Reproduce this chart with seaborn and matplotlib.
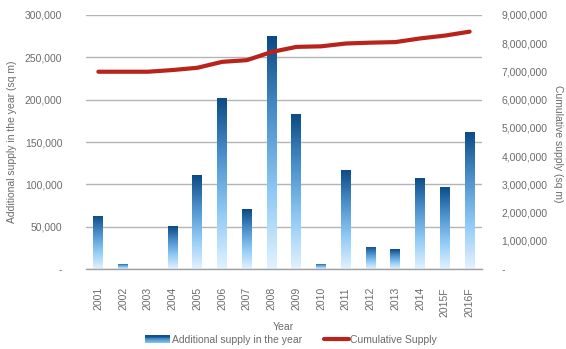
import numpy as np
import pandas as pd
import matplotlib
matplotlib.use("Agg")
import matplotlib.pyplot as plt
import seaborn as sns
from matplotlib.colors import LinearSegmentedColormap
from matplotlib.legend_handler import HandlerBase
from matplotlib.patches import Rectangle
from matplotlib.lines import Line2D
from matplotlib.ticker import FuncFormatter, FixedLocator

years = ["2001", "2002", "2003", "2004", "2005", "2006", "2007", "2008",
         "2009", "2010", "2011", "2012", "2013", "2014", "2015F", "2016F"]
additional = [63000, 6300, 0, 50500, 111000, 202000, 70500, 275000,
              183500, 6300, 117500, 26500, 23500, 108000, 97000, 162000]
cumulative = [6990000, 6990000, 6990000, 7050000, 7130000, 7340000, 7400000, 7690000,
              7870000, 7890000, 7990000, 8020000, 8040000, 8170000, 8270000, 8410000]

df = pd.DataFrame({"Year": years, "Additional": additional, "Cumulative": cumulative})

sns.set_theme(style="white")
plt.rcParams["font.family"] = ["Liberation Sans", "DejaVu Sans"]

W, H = 566, 349
fig = plt.figure(figsize=(W / 100, H / 100), dpi=100)
fig.patch.set_facecolor("white")
L, R, T, B = 86, 482, 15, 269
ax = fig.add_axes([L / W, 1 - B / H, (R - L) / W, (B - T) / H])

grad = LinearSegmentedColormap.from_list(
    "g", ["#e2f2ff", "#8ec9f5", "#4a8fcb", "#0b4a84"])

sns.barplot(data=df, x="Year", y="Additional", ax=ax, width=0.4,
            color="#4a8fcb", linewidth=0, zorder=3)
ax.set_ylim(0, 300000)
ax.set_xlim(-0.5, len(years) - 0.5)

# gradient fill inside each bar
gimg = np.linspace(0, 1, 256).reshape(-1, 1)
for p in list(ax.patches):
    x0, y0 = p.get_x(), p.get_y()
    w, h = p.get_width(), p.get_height()
    if h <= 0:
        continue
    im = ax.imshow(gimg, cmap=grad, aspect="auto", origin="lower",
                   extent=[x0, x0 + w, y0, y0 + h], zorder=4, interpolation="bicubic")
    im.set_clip_path(p)
ax.set_xlim(-0.5, len(years) - 0.5)
ax.set_ylim(0, 300000)

tick_color = "#6b6b6b"
ax.yaxis.set_major_locator(FixedLocator(np.arange(0, 300001, 50000)))
ax.yaxis.set_major_formatter(FuncFormatter(lambda v, _: "-" if v == 0 else f"{int(v):,}"))
ax.grid(axis="y", color="#b4b4b4", linewidth=1.0, zorder=0)
ax.set_axisbelow(True)
for s in ["left", "right", "top"]:
    ax.spines[s].set_visible(False)
ax.spines["bottom"].set_color("#a0a0a0")
ax.spines["bottom"].set_linewidth(1.0)
ax.spines["bottom"].set_zorder(5)

ax.tick_params(axis="y", length=0, pad=17, labelsize=7.5, labelcolor=tick_color)
ax.tick_params(axis="x", which="major", length=0, pad=13, labelsize=7.5,
               labelcolor=tick_color, labelrotation=90)
ax.set_xticks(range(len(years)))
ax.set_xticks(np.arange(-0.5, len(years), 1.0), minor=True)
ax.tick_params(axis="x", which="minor", length=5, width=1, color="#a0a0a0", direction="out")
for lab in ax.get_xticklabels():
    lab.set_verticalalignment("top")
ax.set_xlabel("")
ax.set_ylabel("")

ax2 = ax.twinx()
sns.lineplot(x=np.arange(len(years)), y=df["Cumulative"].values, ax=ax2,
             color="#b8231c", linewidth=3, zorder=6, legend=False)
ax2.set_ylim(0, 9000000)
ax2.set_xlim(-0.5, len(years) - 0.5)
ax2.yaxis.set_major_locator(FixedLocator(np.arange(0, 9000001, 1000000)))
ax2.yaxis.set_major_formatter(FuncFormatter(lambda v, _: "-" if v == 0 else f"{int(v):,}"))
ax2.tick_params(axis="y", length=0, pad=14, labelsize=7.5, labelcolor=tick_color)
for s in ["left", "right", "top", "bottom"]:
    ax2.spines[s].set_visible(False)
ax2.grid(False)
ax2.set_ylabel("")

fig.text(12 / W, 1 - 142 / H, "Additional supply in the year (sq m)", rotation=90,
         ha="center", va="center", fontsize=7.5, color=tick_color)
fig.text(558 / W, 1 - 144 / H, "Cumulative supply (sq m)", rotation=270,
         ha="center", va="center", fontsize=7.5, color=tick_color)
fig.text(283 / W, 1 - 327 / H, "Year", ha="center", va="center",
         fontsize=7.5, color=tick_color)


class GradHandler(HandlerBase):
    def create_artists(self, legend, orig, xd, yd, width, height, fontsize, trans):
        arts = []
        n = 8
        for i in range(n):
            c = grad(0.35 + 0.65 * (i + 0.5) / n)
            r = Rectangle((xd, yd + height * i / n), width, height / n + 0.2,
                          facecolor=c, edgecolor="none", transform=trans)
            arts.append(r)
        return arts


bar_handle = Rectangle((0, 0), 1, 1, facecolor="#4a8fcb")
line_handle = Line2D([0], [0], color="#b8231c", linewidth=3)
leg = fig.legend([bar_handle, line_handle],
                 ["Additional supply in the year", "Cumulative Supply"],
                 handler_map={bar_handle: GradHandler()},
                 loc="center", bbox_to_anchor=(291 / W, 1 - 340 / H), ncol=2,
                 frameon=False, fontsize=7.5, handlelength=2.4, handleheight=0.7,
                 handletextpad=0.15, columnspacing=2.1, labelcolor=tick_color,
                 borderpad=0.0)

fig.savefig("out.png", dpi=100, facecolor="white")
